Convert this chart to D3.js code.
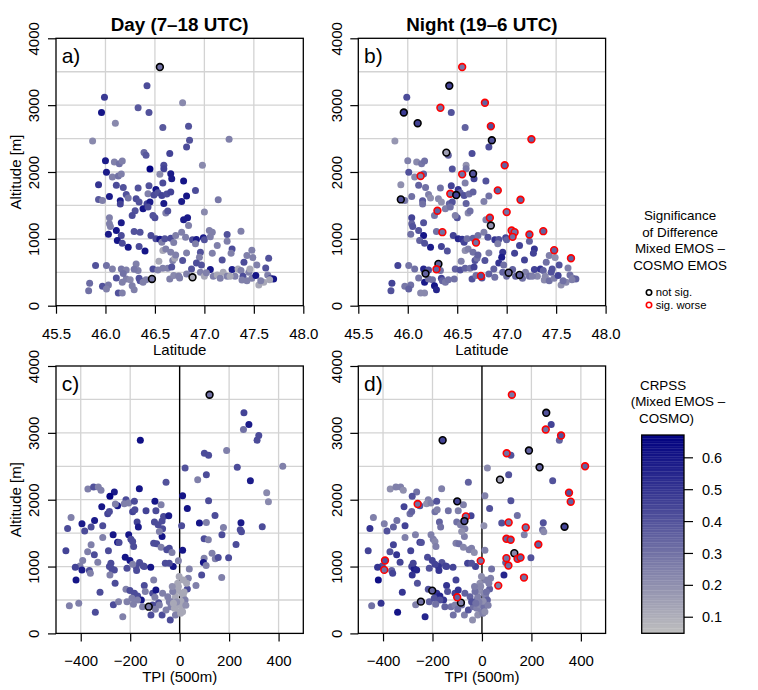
<!DOCTYPE html>
<html>
<head>
<meta charset="utf-8">
<script src="https://cdn.jsdelivr.net/npm/d3@7"></script>
<style>
  body { margin: 0; background: #fff; }
  text { font-family: "Liberation Sans", Arial, Helvetica, sans-serif; }
</style>
</head>
<body>
<div id="chart"></div>
<script>
// station values
// top row: [latitude, altitude, CRPSS day, CRPSS night, sig day, sig night]
// sig: 0 = no outline, 1 = not sig. (black), 2 = sig. worse (red)
var latStations = [
  [46.55,3570,0.30,0.28,1,2],[46.42,3290,0.42,0.45,0,1],[45.99,3120,0.48,0.42,0,0],[46.33,2960,0.38,0.30,0,2],
  [45.96,2890,0.60,0.48,0,1],[46.44,2890,0.40,0.40,0,0],[46.10,2730,0.22,0.45,0,1],[46.58,2665,0.38,0.35,0,0],
  [45.87,2465,0.22,0.18,0,0],[46.39,2290,0.32,0.15,0,1],[46.41,2250,0.38,0.35,0,0],[46.65,2275,0.45,0.42,0,0],
  [46.00,2170,0.58,0.25,0,0],[46.09,2150,0.25,0.22,0,0],[46.14,2125,0.30,0.28,0,0],[46.17,2165,0.25,0.30,0,0],
  [46.45,2045,0.66,0.40,0,0],[46.59,2100,0.42,0.20,0,0],[46.59,2050,0.45,0.28,0,0],[46.01,1995,0.58,0.40,0,0],
  [46.07,1925,0.25,0.22,0,0],[46.13,1940,0.30,0.25,0,2],[46.16,1970,0.25,0.35,0,0],[46.55,1965,0.22,0.30,0,2],
  [46.66,1975,0.58,0.40,0,1],[46.67,1900,0.58,0.45,0,0],[45.93,1810,0.50,0.20,0,0],[46.11,1800,0.42,0.35,0,0],
  [46.18,1770,0.40,0.30,0,0],[46.44,1795,0.40,0.45,0,0],[46.51,1740,0.60,0.50,0,0],[46.58,1835,0.42,0.25,0,0],
  [46.33,1760,0.40,0.30,0,0],[46.43,1675,0.25,0.30,0,2],[46.49,1655,0.42,0.45,0,1],[46.53,1690,0.40,0.35,0,0],
  [46.57,1650,0.45,0.40,0,0],[46.62,1670,0.42,0.30,0,0],[46.66,1700,0.45,0.35,0,0],[46.04,1635,0.58,0.30,0,0],
  [45.93,1590,0.38,0.40,0,1],[45.97,1575,0.25,0.28,0,0],[46.21,1665,0.40,0.25,0,0],[46.23,1610,0.28,0.20,0,0],
  [46.15,1570,0.58,0.38,0,0],[46.15,1520,0.45,0.30,0,0],[46.31,1600,0.42,0.22,0,0],[46.34,1550,0.40,0.20,0,0],
  [46.42,1525,0.45,0.35,0,0],[46.45,1550,0.58,0.40,0,0],[46.59,1530,0.58,0.35,0,0],[46.38,1450,0.60,0.25,0,0],
  [46.43,1475,0.42,0.30,0,0],[46.30,1420,0.40,0.35,0,2],[46.27,1350,0.42,0.28,0,0],[46.50,1315,0.42,0.40,0,0],
  [46.48,1350,0.40,0.25,0,0],[46.61,1385,0.25,0.22,0,0],[46.63,1415,0.40,0.30,0,0],[46.04,1315,0.25,0.45,0,0],
  [46.16,1240,0.58,0.40,0,0],[46.04,1225,0.25,0.35,0,0],[46.11,1125,0.60,0.40,0,0],[46.03,1070,0.58,0.30,0,0],
  [46.16,1050,0.42,0.60,0,0],[46.29,1110,0.40,0.30,0,0],[46.35,1100,0.40,0.30,0,2],[46.12,975,0.60,0.35,0,0],
  [46.17,935,0.42,0.40,0,0],[46.23,875,0.60,0.58,0,0],[46.34,885,0.42,0.45,0,0],[46.40,820,0.60,0.40,0,0],
  [46.05,1185,0.25,0.40,0,0],[46.46,1050,0.42,0.45,0,0],[46.51,1000,0.42,0.55,0,0],[46.55,995,0.60,0.50,0,0],
  [46.57,950,0.25,0.45,0,0],[46.60,1000,0.40,0.30,0,0],[46.66,1010,0.42,0.35,0,0],[46.71,1050,0.25,0.30,0,0],
  [46.58,825,0.12,0.20,0,0],[46.61,850,0.25,0.25,0,0],[46.66,800,0.25,0.30,0,0],[46.69,945,0.25,0.30,0,2],
  [46.54,665,0.12,0.25,0,0],[46.68,675,0.25,0.40,0,0],[46.70,710,0.12,0.30,0,0],[46.71,760,0.25,0.35,0,0],
  [45.90,600,0.40,0.45,0,0],[46.01,600,0.30,0.28,0,0],[46.07,550,0.25,0.30,0,0],[46.16,550,0.28,0.55,0,0],
  [46.31,625,0.25,0.35,0,1],[46.33,525,0.25,0.30,0,0],[46.21,535,0.25,0.40,0,0],[46.48,550,0.42,0.35,0,0],
  [46.53,535,0.25,0.40,0,0],[46.47,400,0.28,0.30,1,0],[45.84,335,0.32,0.45,0,0],[45.83,225,0.30,0.40,0,0],
  [45.97,290,0.40,0.28,0,0],[46.03,310,0.28,0.30,0,0],[46.01,250,0.25,0.35,0,0],[46.11,415,0.40,0.28,0,0],
  [46.17,350,0.25,0.58,0,0],[46.21,400,0.25,0.30,0,0],[46.25,390,0.22,0.30,0,0],[46.27,300,0.25,0.60,0,0],
  [46.29,240,0.25,0.55,0,0],[46.34,410,0.40,0.45,0,0],[46.35,375,0.40,0.35,0,0],[46.38,350,0.25,0.28,0,0],
  [46.41,390,0.25,0.30,0,0],[46.13,190,0.40,0.22,0,0],[46.17,190,0.25,0.22,0,0],[46.65,400,0.25,0.40,0,0],
  [46.69,450,0.22,0.30,0,0],[46.58,560,0.25,0.35,0,0],[46.63,560,0.25,0.30,0,0],[46.67,580,0.40,0.45,0,0],
  [46.18,480,0.30,0.35,0,1],[46.29,545,0.28,0.35,0,2],[46.74,445,0.25,0.40,0,2],
  [46.78,3035,0.22,0.35,0,2],[46.84,2685,0.40,0.40,0,2],[46.85,2475,0.40,0.40,0,1],[46.82,2375,0.42,0.42,0,0],
  [47.25,2490,0.25,0.35,0,2],[46.98,2100,0.22,0.35,0,2],[46.79,1865,0.60,0.40,0,0],[46.91,1725,0.42,0.35,0,2],
  [46.82,1640,0.60,0.30,0,0],[46.77,1560,0.58,0.25,0,0],[47.14,1585,0.28,0.35,0,2],[47.00,1400,0.22,0.30,0,2],
  [46.83,1315,0.58,0.35,0,2],[46.79,1285,0.58,0.25,0,0],[46.84,1200,0.25,0.20,0,1],[46.77,1100,0.25,0.25,0,0],
  [47.05,1125,0.25,0.30,0,2],[47.08,1100,0.25,0.30,0,2],[47.23,1065,0.40,0.35,0,2],[47.37,1115,0.25,0.35,0,2],
  [46.81,1025,0.25,0.40,0,0],[46.88,985,0.42,0.50,0,0],[46.92,990,0.58,0.40,0,0],[46.99,1015,0.58,0.45,0,0],
  [47.00,985,0.40,0.35,0,0],[47.06,1030,0.25,0.30,0,2],[46.91,925,0.25,0.25,0,0],[47.13,900,0.25,0.45,0,0],
  [47.23,965,0.25,0.35,0,0],[47.28,850,0.42,0.50,0,0],[47.27,785,0.25,0.45,0,0],[46.82,790,0.25,0.25,0,0],
  [46.96,800,0.40,0.50,0,0],[47.08,785,0.25,0.45,0,0],[46.95,725,0.25,0.58,0,0],[47.18,685,0.40,0.45,0,0],
  [47.48,830,0.25,0.35,0,2],[47.43,750,0.25,0.25,0,0],[47.49,720,0.25,0.20,0,0],[47.65,710,0.40,0.35,0,2],
  [46.78,675,0.40,0.40,0,0],[46.92,640,0.42,0.50,0,0],[46.97,610,0.40,0.30,0,0],[47.40,650,0.42,0.30,0,0],
  [47.53,610,0.25,0.40,0,0],[46.87,550,0.40,0.35,0,0],[47.06,540,0.60,0.35,0,0],[47.28,540,0.58,0.45,0,0],
  [47.62,565,0.40,0.25,0,0],[46.88,425,0.12,0.30,1,0],[46.75,415,0.25,0.40,0,0],[46.82,475,0.25,0.35,0,0],
  [46.96,500,0.25,0.35,0,0],[47.00,440,0.12,0.30,0,0],[47.02,494,0.25,0.30,0,1],[47.09,440,0.25,0.35,0,0],
  [47.13,460,0.12,0.35,0,1],[47.19,500,0.12,0.25,0,0],[47.23,440,0.25,0.30,0,0],[47.31,440,0.25,0.22,0,0],
  [47.34,550,0.12,0.50,0,0],[47.37,525,0.25,0.35,0,0],[47.39,440,0.42,0.22,0,0],[47.45,500,0.25,0.40,0,0],
  [47.46,550,0.12,0.40,0,0],[47.38,385,0.25,0.22,0,0],[47.43,375,0.25,0.30,0,0],[47.48,410,0.25,0.25,0,0],
  [47.52,450,0.60,0.45,0,0],[47.55,310,0.12,0.20,0,0],[47.60,350,0.12,0.22,0,0],[47.57,375,0.25,0.30,0,0],
  [47.64,460,0.25,0.30,0,0],[47.67,410,0.40,0.25,0,0],[47.70,400,0.60,0.35,0,0],[47.66,390,0.12,0.25,0,0],
  [47.26,440,0.12,0.25,0,0],[47.16,410,0.25,0.30,0,0]
];

// bottom row: [TPI (500m), altitude, CRPSS day, CRPSS night, sig day, sig night]
var tpiStations = [
  [-159,2890,0.62,0.45,0,1],[-371,2160,0.25,0.20,0,0],[-348,2190,0.40,0.25,0,0],[-329,2190,0.25,0.25,0,0],
  [-318,2140,0.25,0.20,0,0],[-264,2115,0.58,0.30,0,0],[-282,2050,0.66,0.40,0,0],[-163,2165,0.60,0.25,0,0],
  [-55,2260,0.40,0.35,0,0],[-439,1735,0.25,0.25,0,0],[-453,1570,0.42,0.50,0,0],[-395,1640,0.58,0.25,0,0],
  [-384,1530,0.42,0.40,0,0],[-358,1590,0.42,0.35,0,0],[-344,1690,0.58,0.30,0,0],[-311,1610,0.42,0.45,0,0],
  [-315,1895,0.60,0.45,0,0],[-291,1790,0.45,0.30,0,0],[-284,1825,0.42,0.35,0,0],[-251,1910,0.60,0.40,0,0],
  [-260,1935,0.25,0.30,0,2],[-217,2000,0.42,0.25,0,0],[-224,1940,0.25,0.20,0,0],[-206,1950,0.25,0.25,0,0],
  [-183,1975,0.42,0.40,0,0],[-190,1820,0.45,0.30,0,0],[-181,1850,0.42,0.25,0,0],[-172,1665,0.45,0.35,0,0],
  [-167,1590,0.58,0.30,0,0],[-136,1835,0.45,0.30,0,0],[-100,1975,0.60,0.45,0,1],[-96,1835,0.42,0.25,0,0],
  [-75,1925,0.25,0.25,0,0],[-65,1750,0.42,0.30,0,2],[-44,1760,0.58,0.45,0,0],[-102,1665,0.42,0.30,0,0],
  [-87,1625,0.42,0.25,0,0],[-71,1680,0.42,0.40,0,1],[-69,1565,0.42,0.25,0,0],[-71,1450,0.60,0.25,0,0],
  [-82,1525,0.25,0.20,0,0],[-460,1235,0.45,0.45,0,0],[-372,1220,0.25,0.40,0,0],[-358,1325,0.25,0.45,0,0],
  [-345,1175,0.42,0.50,0,0],[-311,1435,0.25,0.25,0,0],[-288,1235,0.42,0.45,0,0],[-269,1475,0.60,0.25,0,0],
  [-251,1365,0.60,0.45,0,0],[-245,1360,0.42,0.40,0,0],[-206,1475,0.60,0.25,0,0],[-197,1410,0.42,0.25,0,0],
  [-190,1375,0.42,0.22,0,0],[-186,1300,0.42,0.25,0,0],[-220,1140,0.60,0.42,0,0],[-201,1090,0.60,0.45,0,0],
  [-162,1060,0.42,0.40,0,0],[-143,1000,0.42,0.45,0,0],[-117,990,0.60,0.45,0,0],[-105,1350,0.42,0.25,0,0],
  [-93,1340,0.42,0.30,0,0],[-75,1290,0.25,0.22,0,0],[-52,1250,0.42,0.25,0,0],[-42,1275,0.42,0.25,0,0],
  [-31,1210,0.25,0.20,0,0],[-26,1000,0.60,0.45,0,0],[-58,1050,0.42,0.45,0,0],[-42,1050,0.42,0.40,0,0],
  [-392,1090,0.25,0.40,0,2],[-403,1010,0.25,0.40,0,0],[-422,990,0.45,0.50,0,0],[-395,950,0.58,0.30,0,2],
  [-419,800,0.60,0.62,0,0],[-365,940,0.42,0.35,0,0],[-361,900,0.25,0.45,0,0],[-331,1065,0.25,0.45,0,0],
  [-284,1000,0.42,0.45,0,0],[-274,965,0.42,0.58,0,0],[-264,950,0.42,0.55,0,0],[-282,875,0.25,0.50,0,0],
  [-261,750,0.42,0.40,0,0],[-278,1050,0.42,0.45,0,0],[-213,975,0.42,0.40,0,0],[-176,1000,0.42,0.50,0,0],
  [-147,1010,0.42,0.45,0,0],[-190,1035,0.25,0.45,0,0],[-174,940,0.42,0.50,0,0],[-322,615,0.42,0.50,0,0],
  [-217,660,0.25,0.40,0,0],[-201,640,0.42,0.35,0,1],[-183,600,0.42,0.50,0,0],[-170,560,0.42,0.55,0,0],
  [-155,500,0.60,0.50,0,0],[-143,715,0.42,0.50,0,0],[-105,800,0.25,0.45,0,0],[-139,625,0.25,0.40,0,0],
  [-109,600,0.42,0.45,0,0],[-96,650,0.60,0.50,0,0],[-69,600,0.25,0.35,0,0],[-446,415,0.25,0.30,0,0],
  [-408,450,0.25,0.50,0,0],[-341,315,0.42,0.60,0,0],[-268,430,0.42,0.25,0,0],[-247,475,0.25,0.30,0,1],
  [-230,250,0.25,0.55,0,0],[-213,475,0.25,0.35,0,0],[-193,525,0.25,0.40,0,0],[-170,500,0.25,0.40,0,0],
  [-125,400,0.28,0.30,1,0],[-109,425,0.42,0.25,0,0],[-85,460,0.42,0.25,0,1],[-82,425,0.25,0.30,0,0],
  [-116,275,0.42,0.30,0,0],[-71,275,0.42,0.25,0,0],[-38,200,0.42,0.20,0,0],[-55,350,0.25,0.40,0,0],
  [-35,400,0.25,0.30,0,0],[-21,500,0.25,0.30,0,0],[-17,550,0.12,0.25,0,0],[-12,640,0.12,0.20,0,0],
  [-8,750,0.12,0.20,0,0],[-28,625,0.25,0.30,0,0],[-48,550,0.25,0.35,0,0],[-42,475,0.25,0.40,0,0],
  [-21,375,0.12,0.25,0,0],[-8,425,0.12,0.22,0,0],[-4,325,0.12,0.25,0,0],[-17,275,0.25,0.20,0,0],
  [-98,360,0.25,0.30,0,0],[-150,400,0.25,0.35,0,0],[-187,435,0.25,0.30,0,0],[-100,540,0.25,0.35,0,2],
  [121,3570,0.30,0.28,1,2],[260,3300,0.45,0.40,0,1],[280,3125,0.58,0.45,0,0],[258,3050,0.30,0.30,0,2],
  [320,2960,0.42,0.40,0,2],[313,2890,0.42,0.35,0,0],[100,2695,0.42,0.30,0,2],[117,2665,0.42,0.40,0,0],
  [190,2735,0.25,0.35,0,1],[22,2475,0.40,0.22,0,0],[233,2485,0.42,0.35,0,1],[417,2500,0.25,0.35,0,2],
  [108,2375,0.42,0.40,0,0],[73,2300,0.25,0.15,0,1],[286,2285,0.58,0.40,0,0],[352,2105,0.22,0.40,0,2],
  [359,1970,0.22,0.35,0,2],[12,2060,0.60,0.25,0,0],[31,1870,0.60,0.40,0,0],[117,1985,0.42,0.40,0,0],
  [143,1765,0.42,0.30,0,0],[80,1650,0.60,0.40,0,0],[108,1660,0.25,0.28,0,2],[248,1655,0.58,0.40,0,0],
  [177,1585,0.25,0.30,0,2],[245,1550,0.42,0.30,0,0],[250,1520,0.42,0.22,0,0],[334,1595,0.42,0.45,0,1],
  [8,1610,0.42,0.20,0,0],[99,1415,0.42,0.35,0,2],[116,1400,0.25,0.35,0,2],[171,1475,0.42,0.25,0,0],
  [228,1330,0.42,0.35,0,2],[12,1245,0.60,0.25,0,0],[131,1200,0.25,0.22,0,1],[144,1115,0.25,0.35,0,2],
  [156,1135,0.42,0.35,0,2],[198,1130,0.42,0.40,0,0],[99,1125,0.25,0.30,0,2],[96,1060,0.60,0.35,0,0],
  [107,1015,0.25,0.30,0,2],[39,965,0.25,0.30,0,0],[-5,1085,0.25,0.30,0,2],[89,875,0.42,0.55,0,0],
  [170,835,0.25,0.30,0,2],[66,715,0.25,0.25,0,2],[31,665,0.42,0.35,0,0],[35,825,0.25,0.25,0,0],
  [15,800,0.12,0.25,0,0],[8,600,0.12,0.22,0,0],[15,550,0.12,0.25,0,0],[8,400,0.12,0.30,0,0],
  [22,500,0.25,0.35,0,0],[4,300,0.12,0.25,0,0],[12,325,0.12,0.20,0,0],[28,750,0.12,0.25,0,0],
  [-5,700,0.12,0.22,0,0],[5,480,0.12,0.20,0,0],[-12,470,0.20,0.25,0,0],[-30,700,0.20,0.25,0,0],
  [18,620,0.12,0.30,0,0],[-2,850,0.12,0.20,0,0],[-25,450,0.12,0.30,0,0],[25,420,0.20,0.25,0,0]
];

var latTicks = [45.5, 46.0, 46.5, 47.0, 47.5, 48.0];
var tpiTicks = [-400, -200, 0, 200, 400];
var altTicks = [0, 1000, 2000, 3000, 4000];
var altGrid = [500, 1000, 1500, 2000, 2500, 3000, 3500];
var crpssTicks = [0.1, 0.2, 0.3, 0.4, 0.5, 0.6];
var crpssRange = [0.048, 0.67];
var sigLabels = ["not sig.", "sig. worse"];
var sigColors = [null, "#000000", "#ff0000"];

var width = 758, height = 690;
var pw = 247.3, ph = 267.4;

var svg = d3.select("#chart")
    .append("svg")
    .attr("width", width)
    .attr("height", height);

var color = d3.scaleLinear()
    .domain(crpssRange)
    .range(["#bebebe", "#000080"])
    .clamp(true);

var y = d3.scaleLinear().domain([0, 4000]).range([ph, 0]);

function drawPanel(left, top, data, xDomain, xTicks, xGrid, fmt, valIdx, sigIdx, opts) {
    var g = svg.append("g").attr("transform", "translate(" + left + "," + top + ")");
    var x = d3.scaleLinear().domain(xDomain).range([0, pw]);

    // grid
    g.selectAll(".vg").data(xGrid).enter().append("line")
        .attr("x1", function (d) { return x(d); }).attr("x2", function (d) { return x(d); })
        .attr("y1", 0).attr("y2", ph)
        .style("stroke", "#d3d3d3").style("stroke-width", 1.3);
    g.selectAll(".hg").data(altGrid).enter().append("line")
        .attr("x1", 0).attr("x2", pw)
        .attr("y1", function (d) { return y(d); }).attr("y2", function (d) { return y(d); })
        .style("stroke", "#d3d3d3").style("stroke-width", 1.3);

    if (opts.zeroLine) {
        g.append("line")
            .attr("x1", x(0)).attr("x2", x(0)).attr("y1", 0).attr("y2", ph)
            .style("stroke", "#000").style("stroke-width", 1.4);
    }

    // plain points first, outlined ones on top
    var plain = data.filter(function (d) { return d[sigIdx] === 0; });
    var marked = data.filter(function (d) { return d[sigIdx] !== 0; });

    g.selectAll(".pt").data(plain).enter().append("circle")
        .attr("cx", function (d) { return x(d[0]); })
        .attr("cy", function (d) { return y(d[1]); })
        .attr("r", 3.5)
        .style("fill", function (d) { return color(d[valIdx]); });

    g.selectAll(".mk").data(marked).enter().append("circle")
        .attr("cx", function (d) { return x(d[0]); })
        .attr("cy", function (d) { return y(d[1]); })
        .attr("r", 3.4)
        .style("fill", function (d) { return color(d[valIdx]); })
        .style("stroke", function (d) { return sigColors[d[sigIdx]]; })
        .style("stroke-width", 1.6);

    // box
    g.append("rect").attr("width", pw).attr("height", ph)
        .style("fill", "none").style("stroke", "#000").style("stroke-width", 1.3);

    // x axis
    var xa = g.append("g").attr("transform", "translate(0," + ph + ")")
        .call(d3.axisBottom(x).tickValues(xTicks).tickFormat(fmt).tickSize(8).tickSizeOuter(0));
    xa.select(".domain").remove();
    xa.selectAll("line").style("stroke-width", 1.2);
    xa.selectAll("text").attr("y", 33).attr("dy", 0)
        .style("font-size", "15px").style("fill", "#000");

    // y axis with rotated labels
    var ya = g.append("g")
        .call(d3.axisLeft(y).tickValues(altTicks).tickFormat(d3.format("d")).tickSize(8).tickSizeOuter(0));
    ya.select(".domain").remove();
    ya.selectAll("line").style("stroke-width", 1.2);
    ya.selectAll("text")
        .attr("transform", "rotate(-90)")
        .attr("x", 0).attr("y", -16.7).attr("dy", 0)
        .style("text-anchor", "middle")
        .style("font-size", "15px").style("fill", "#000");
    g.selectAll(".tick text").style("font-family", "'Liberation Sans', Arial, sans-serif");

    // axis titles
    g.append("text")
        .attr("x", pw / 2).attr("y", ph + 49)
        .attr("text-anchor", "middle")
        .style("font-size", "15px")
        .text(opts.xTitle);
    if (opts.yTitle) {
        g.append("text")
            .attr("transform", "translate(" + (20.7 - left) + "," + (ph / 2) + ") rotate(-90)")
            .attr("text-anchor", "middle")
            .style("font-size", "15px")
            .text("Altitude [m]");
    }

    // panel letter
    g.append("text")
        .attr("x", 5.7).attr("y", 25)
        .style("font-size", "21px")
        .text(opts.letter);

    if (opts.title) {
        g.append("text")
            .attr("x", pw / 2).attr("y", 31 - top)
            .attr("text-anchor", "middle")
            .style("font-size", "18.8px").style("font-weight", "bold")
            .text(opts.title);
    }
}

var f1 = d3.format(".1f");
var f0 = d3.format("d");
var latGrid = [46.0, 46.5, 47.0, 47.5];
var tpiGrid = [-400, -200, 200, 400];

drawPanel(56, 38.3, latStations, [45.5, 48], latTicks, latGrid, f1, 2, 4,
    { letter: "a)", title: "Day (7\u201318 UTC)", xTitle: "Latitude", yTitle: true });
drawPanel(358.3, 38.3, latStations, [45.5, 48], latTicks, latGrid, f1, 3, 5,
    { letter: "b)", title: "Night (19\u20136 UTC)", xTitle: "Latitude", yTitle: false });
drawPanel(56, 366, tpiStations, [-500, 500], tpiTicks, tpiGrid, f0, 2, 4,
    { letter: "c)", xTitle: "TPI (500m)", yTitle: true, zeroLine: true });
drawPanel(358.3, 366, tpiStations, [-500, 500], tpiTicks, tpiGrid, f0, 3, 5,
    { letter: "d)", xTitle: "TPI (500m)", yTitle: false, zeroLine: true });

// significance legend
var sigTitle = ["Significance", "of Difference", "Mixed EMOS \u2013", "COSMO EMOS"];
svg.selectAll(".sigt").data(sigTitle).enter().append("text")
    .attr("x", 680)
    .attr("y", function (d, i) { return 220 + i * 16.7; })
    .attr("text-anchor", "middle")
    .style("font-size", "13.4px")
    .text(function (d) { return d; });

sigLabels.forEach(function (lab, i) {
    svg.append("circle")
        .attr("cx", 649).attr("cy", 292.5 + i * 12.5).attr("r", 2.7)
        .style("fill", "none").style("stroke", sigColors[i + 1]).style("stroke-width", 1.6);
    svg.append("text")
        .attr("x", 655.7).attr("y", 296.3 + i * 12.5)
        .style("font-size", "11.3px")
        .text(lab);
});

// colour bar legend
var cbTitle = [["CRPSS", 640], ["(Mixed EMOS \u2013", 630.7], ["COSMO)", 639]];
svg.selectAll(".cbt").data(cbTitle).enter().append("text")
    .attr("x", function (d) { return d[1]; })
    .attr("y", function (d, i) { return 390 + i * 16.3; })
    .style("font-size", "13.4px")
    .text(function (d) { return d[0]; });

var cbX = 641.7, cbW = 42.3;
var cbY = d3.scaleLinear().domain(crpssRange).range([633.3, 435]);
var steps = d3.range(0, 120);
var stepH = (cbY.domain()[1] - cbY.domain()[0]) / steps.length;
svg.selectAll(".cb").data(steps).enter().append("rect")
    .attr("x", cbX).attr("width", cbW)
    .attr("y", function (i) { return cbY(crpssRange[0] + (i + 1) * stepH); })
    .attr("height", function (i) { return cbY(crpssRange[0] + i * stepH) - cbY(crpssRange[0] + (i + 1) * stepH) + 0.3; })
    .style("fill", function (i) { return color(crpssRange[0] + (i + 0.5) * stepH); });
svg.append("rect")
    .attr("x", cbX).attr("y", 435).attr("width", cbW).attr("height", 633.3 - 435)
    .style("fill", "none").style("stroke", "#000").style("stroke-width", 1.3);

var cba = svg.append("g").attr("transform", "translate(" + (cbX + cbW) + ",0)")
    .call(d3.axisRight(cbY).tickValues(crpssTicks).tickFormat(d3.format(".1f")).tickSize(9).tickSizeOuter(0));
cba.select(".domain").remove();
cba.selectAll("line").style("stroke-width", 1.2);
cba.selectAll("text").attr("x", 18).attr("dy", "0.35em")
    .style("font-size", "14.5px").style("fill", "#000")
    .style("font-family", "'Liberation Sans', Arial, sans-serif");
</script>
</body>
</html>
